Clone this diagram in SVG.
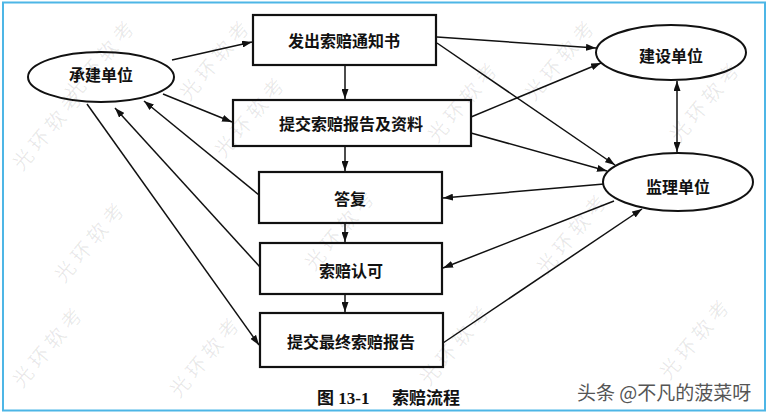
<svg xmlns="http://www.w3.org/2000/svg" width="768" height="414" viewBox="0 0 768 414">
  <defs>
    <marker id="arr" viewBox="0 0 10 7" refX="10" refY="3.5" markerWidth="10" markerHeight="7" markerUnits="userSpaceOnUse" orient="auto-start-reverse">
      <path d="M0,0 L10,3.5 L0,7 z" fill="#111"/>
    </marker>
  </defs>
  <style>
    .box { fill: none; stroke: #111; stroke-width: 2.2; }
    .ell { fill: none; stroke: #111; stroke-width: 2; }
    .lbl { font-family: "Noto Sans CJK SC", "Noto Sans CJK TC", sans-serif; font-weight: bold; font-size: 16px; fill: #111; text-anchor: middle; dominant-baseline: central; }
    .con { stroke: #111; stroke-width: 1.5; fill: none; marker-end: url(#arr); }
    .wm { font-family: "Noto Sans CJK SC", sans-serif; font-size: 20px; fill: #000; fill-opacity: 0.09; letter-spacing: 5px; text-anchor: middle; dominant-baseline: central; }
    .cap { font-family: "Liberation Serif", "Noto Sans CJK SC", serif; font-weight: bold; font-size: 17px; fill: #111; }
  </style>
  <rect x="0" y="0" width="768" height="414" fill="#ffffff"/>
  <g id="watermarks">
    <text class="wm" transform="translate(100,58) rotate(-50)">光环软考</text>
    <text class="wm" transform="translate(215,58) rotate(-50)">光环软考</text>
    <text class="wm" transform="translate(560,58) rotate(-50)">光环软考</text>
    <text class="wm" transform="translate(250,115) rotate(-50)">光环软考</text>
    <text class="wm" transform="translate(463,100) rotate(-50)">光环软考</text>
    <text class="wm" transform="translate(705,100) rotate(-50)">光环软考</text>
    <text class="wm" transform="translate(48,128) rotate(-50)">光环软考</text>
    <text class="wm" transform="translate(90,240) rotate(-50)">光环软考</text>
    <text class="wm" transform="translate(340,228) rotate(-50)">光环软考</text>
    <text class="wm" transform="translate(572,232) rotate(-50)">光环软考</text>
    <text class="wm" transform="translate(48,345) rotate(-50)">光环软考</text>
    <text class="wm" transform="translate(205,355) rotate(-50)">光环软考</text>
    <text class="wm" transform="translate(455,343) rotate(-50)">光环软考</text>
    <text class="wm" transform="translate(695,337) rotate(-50)">光环软考</text>
  </g>
  <g id="connectors">
    <path class="con" d="M172,60 L252,42"/>
    <path class="con" d="M163,94 L232,122"/>
    <path class="con" d="M259,195 L144,101"/>
    <path class="con" d="M260,267 L115,108"/>
    <path class="con" d="M87,104 L259,345"/>
    <path class="con" d="M437,37 L596,48"/>
    <path class="con" d="M437,43 L615,165"/>
    <path class="con" d="M471,117 L601,63"/>
    <path class="con" d="M471,133 L607,171"/>
    <path class="con" d="M604,184 L443,198"/>
    <path class="con" d="M614,201 L443,268"/>
    <path class="con" d="M443,343 L642,209"/>
    <path class="con" d="M677,81 L677,152" marker-start="url(#arr)"/>
    <path class="con" d="M345,65 L345,99"/>
    <path class="con" d="M345,146 L345,171"/>
    <path class="con" d="M345,223 L345,242"/>
    <path class="con" d="M345,294 L345,312"/>
  </g>
  <g id="contractor">
    <ellipse class="ell" cx="101" cy="77" rx="73" ry="25"/>
    <text class="lbl" x="101" y="74">承建单位</text>
  </g>
  <g id="owner">
    <ellipse class="ell" cx="671" cy="52.5" rx="75" ry="27.5"/>
    <text class="lbl" x="671" y="55">建设单位</text>
  </g>
  <g id="supervisor">
    <ellipse class="ell" cx="678" cy="182" rx="75" ry="29"/>
    <text class="lbl" x="678" y="186">监理单位</text>
  </g>
  <g id="notice">
    <rect class="box" x="253" y="15" width="183" height="50"/>
    <text class="lbl" x="344" y="40">发出索赔通知书</text>
  </g>
  <g id="report">
    <rect class="box" x="233" y="100" width="238" height="46"/>
    <text class="lbl" x="351" y="123">提交索赔报告及资料</text>
  </g>
  <g id="reply">
    <rect class="box" x="259" y="172" width="183" height="51"/>
    <text class="lbl" x="350" y="198">答复</text>
  </g>
  <g id="approval">
    <rect class="box" x="260" y="243" width="182" height="51"/>
    <text class="lbl" x="351" y="270">索赔认可</text>
  </g>
  <g id="final">
    <rect class="box" x="260" y="313" width="183" height="54"/>
    <text class="lbl" x="351" y="341">提交最终索赔报告</text>
  </g>
  <g id="caption">
    <text class="cap" x="317" y="404">图 13-1<tspan x="392">索赔流程</tspan></text>
  </g>
  <text x="577" y="391" font-family="Noto Sans CJK SC, sans-serif" font-size="19" fill="#555" dominant-baseline="central">头条 @不凡的菠菜呀</text>
  <rect x="3" y="2.5" width="762" height="408" fill="none" stroke="#4db6e6" stroke-width="2"/>
</svg>
